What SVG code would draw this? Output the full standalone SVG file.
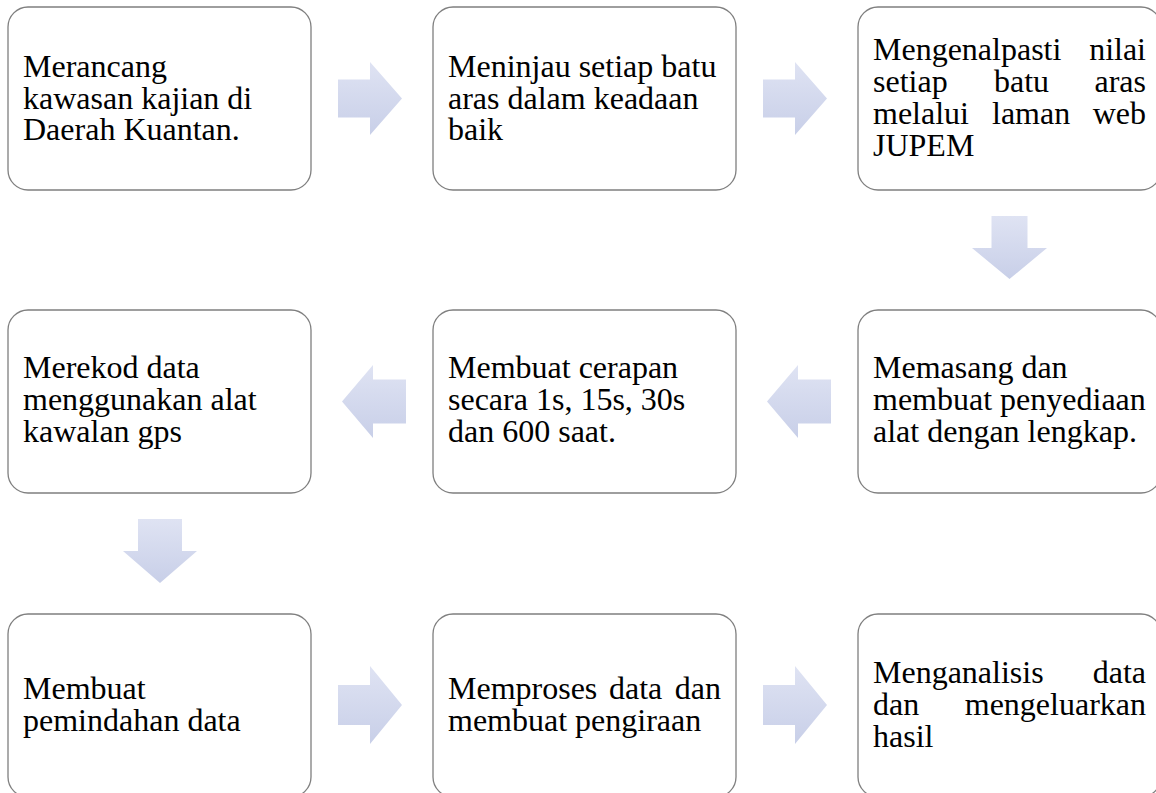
<svg xmlns="http://www.w3.org/2000/svg" width="1156" height="793" viewBox="0 0 1156 793">
<style>
.box{fill:#ffffff;stroke:#7f7f7f;stroke-width:1.3}
.t{font-family:"Liberation Serif","Times New Roman",serif;font-size:32px;fill:#000000}
.e{text-anchor:end}
.arr{fill:url(#ag);stroke:none}
</style>
<defs>
<linearGradient id="ag" x1="0" y1="0" x2="0" y2="1">
<stop offset="0" stop-color="#dfe3f3"/>
<stop offset="1" stop-color="#c8cfe8"/>
</linearGradient>
</defs>
<rect width="1156" height="793" fill="#ffffff"/>
<g id="connectors">
<path class="arr" d="M338,79.5 H370 V62 L402,98.5 L370,135 V117.5 H338 Z"/>
<path class="arr" d="M763,79.5 H795 V62 L827,98.5 L795,135 V117.5 H763 Z"/>
<path class="arr" d="M991.5,216 H1027.5 V248 H1047 L1009.5,279 L972,248 H991.5 Z"/>
<path class="arr" d="M831,379.5 H798 V365 L767,401.5 L798,438 V423.5 H831 Z"/>
<path class="arr" d="M406,379.5 H373 V365 L342,401.5 L373,438 V423.5 H406 Z"/>
<path class="arr" d="M138,519 H182 V551 H197 L160,583 L123,551 H138 Z"/>
<path class="arr" d="M338,685 H370 V666 L402,705 L370,744 V725 H338 Z"/>
<path class="arr" d="M763,685 H795 V666 L827,705 L795,744 V725 H763 Z"/>
</g>
<g id="n1">
<rect class="box" x="8" y="7" width="303" height="183" rx="20"/>
<text class="t" x="23" y="77">Merancang</text>
<text class="t" x="23" y="108.5">kawasan kajian di</text>
<text class="t" x="23" y="140">Daerah Kuantan.</text>
</g>
<g id="n2">
<rect class="box" x="433" y="7" width="303" height="183" rx="20"/>
<text class="t" x="448" y="77">Meninjau setiap batu</text>
<text class="t" x="448" y="108.5">aras dalam keadaan</text>
<text class="t" x="448" y="140">baik</text>
</g>
<g id="n3">
<rect class="box" x="858" y="7" width="303" height="183" rx="20"/>
<text class="t" x="873" y="60">Mengenalpasti</text>
<text class="t e" x="1146" y="60">nilai</text>
<text class="t" x="873" y="92">setiap</text>
<text class="t" x="994" y="92">batu</text>
<text class="t e" x="1146" y="92">aras</text>
<text class="t" x="873" y="124">melalui</text>
<text class="t" x="992" y="124">laman</text>
<text class="t e" x="1146" y="124">web</text>
<text class="t" x="873" y="156">JUPEM</text>
</g>
<g id="n4">
<rect class="box" x="8" y="310" width="303" height="183" rx="20"/>
<text class="t" x="23" y="378">Merekod data</text>
<text class="t" x="23" y="410">menggunakan alat</text>
<text class="t" x="23" y="442">kawalan gps</text>
</g>
<g id="n5">
<rect class="box" x="433" y="310" width="303" height="183" rx="20"/>
<text class="t" x="448" y="378">Membuat cerapan</text>
<text class="t" x="448" y="410">secara 1s, 15s, 30s</text>
<text class="t" x="448" y="442">dan 600 saat.</text>
</g>
<g id="n6">
<rect class="box" x="858" y="310" width="303" height="183" rx="20"/>
<text class="t" x="873" y="378">Memasang dan</text>
<text class="t" x="873" y="410">membuat penyediaan</text>
<text class="t" x="873" y="442">alat dengan lengkap.</text>
</g>
<g id="n7">
<rect class="box" x="8" y="614" width="303" height="183" rx="20"/>
<text class="t" x="23" y="699">Membuat</text>
<text class="t" x="23" y="731">pemindahan data</text>
</g>
<g id="n8">
<rect class="box" x="433" y="614" width="303" height="183" rx="20"/>
<text class="t" x="448" y="699">Memproses</text>
<text class="t" x="609" y="699">data</text>
<text class="t e" x="721" y="699">dan</text>
<text class="t" x="448" y="731">membuat pengiraan</text>
</g>
<g id="n9">
<rect class="box" x="858" y="614" width="303" height="183" rx="20"/>
<text class="t" x="873" y="683">Menganalisis</text>
<text class="t e" x="1146" y="683">data</text>
<text class="t" x="873" y="715">dan</text>
<text class="t e" x="1146" y="715">mengeluarkan</text>
<text class="t" x="873" y="747">hasil</text>
</g>
</svg>
